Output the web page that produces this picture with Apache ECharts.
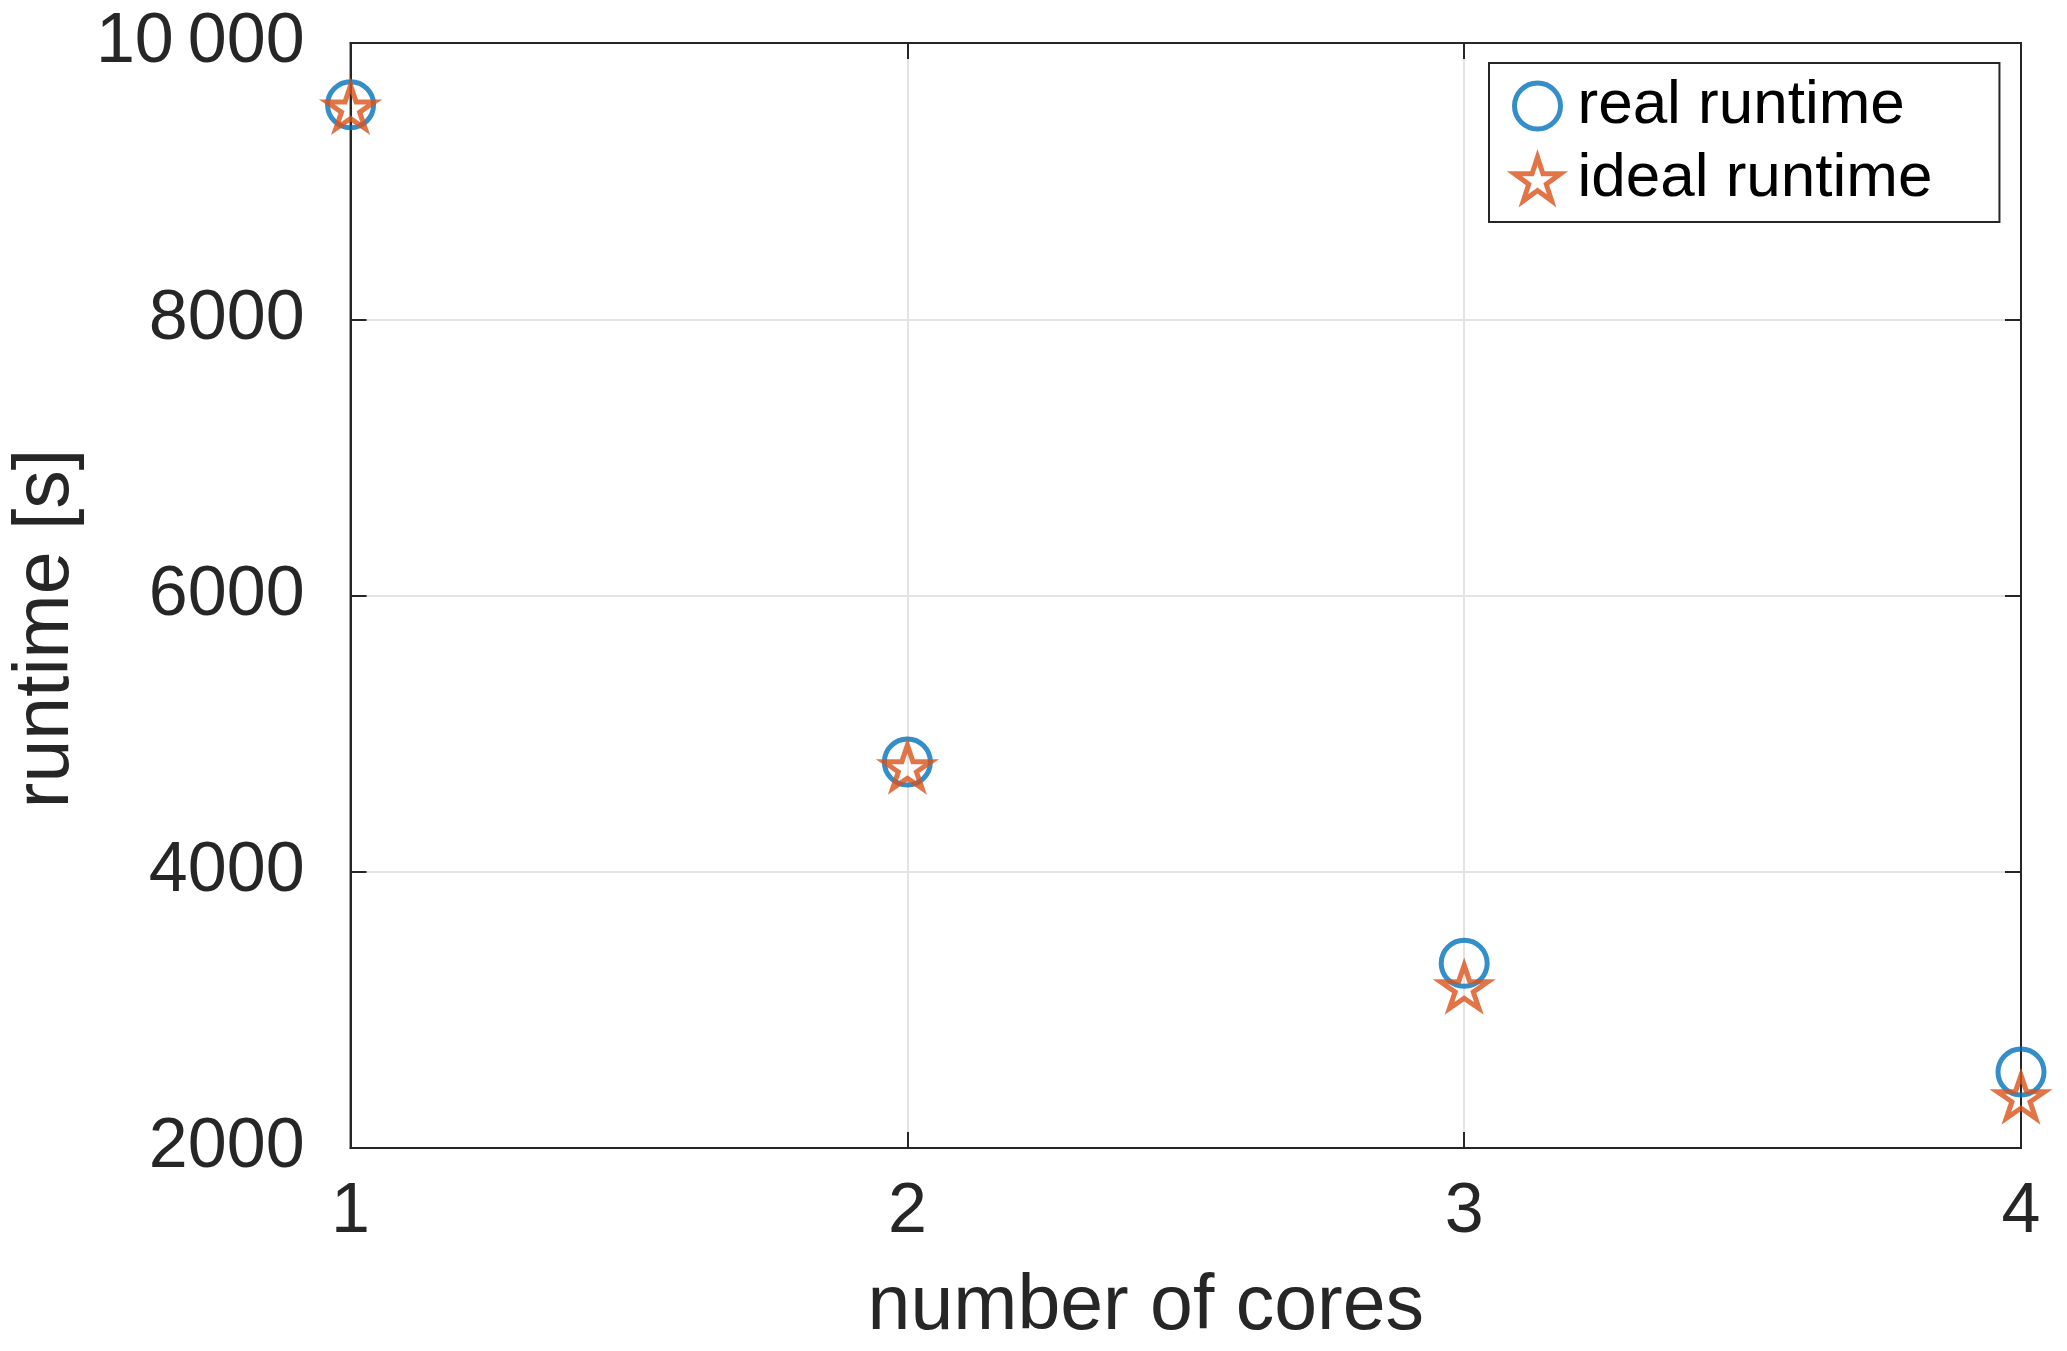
<!DOCTYPE html>
<html>
<head>
<meta charset="utf-8">
<script src="https://cdn.jsdelivr.net/npm/echarts@6/dist/echarts.min.js"></script>
<style>
html,body{margin:0;padding:0;background:#fff;}
#chart{width:2067px;height:1351px;}
</style>
</head>
<body>
<div id="chart"></div>
<script>
// ---- data ----
const cores = [1, 2, 3, 4];
const realRuntime = [9553, 4794, 3338, 2550];
const idealRuntime = [9553, 4777, 3184, 2388];
const yTicks = [2000, 4000, 6000, 8000, 10000];
const xTicks = [1, 2, 3, 4];
const seriesNames = ['real runtime', 'ideal runtime'];

// ---- marker shape (5-point star, outer radius 1) ----
function starPath() {
  const pts = [];
  for (let i = 0; i < 10; i++) {
    const r = i % 2 === 0 ? 1 : 0.382;
    const a = -Math.PI / 2 + i * Math.PI / 5;
    pts.push((r * Math.cos(a)).toFixed(4) + ',' + (r * Math.sin(a)).toFixed(4));
  }
  return 'path://M' + pts.join('L') + 'Z';
}
const STAR = starPath();
const R = 25;
const starSize = [1.902 * R, 1.809 * R];
const starOffset = [0, 0.0955 * R];

const BLUE = '#0072BD';
const ORANGE = '#D95319';
const AX = '#262626';
const FONT = '"Liberation Sans", Arial, Helvetica, sans-serif';

const chart = echarts.init(document.getElementById('chart'), null, {renderer: 'canvas'});

const option = {
  backgroundColor: '#ffffff',
  animation: false,
  grid: {
    left: 343, right: 46, top: 43, bottom: 198,
    show: true, borderColor: AX, borderWidth: 2, backgroundColor: 'transparent'
  },
  legend: {
    orient: 'vertical',
    left: 1489, top: 63,
    padding: [12, 67, 12, 23],
    itemGap: 11,
    itemWidth: 46, itemHeight: 46,
    borderColor: AX, borderWidth: 2,
    backgroundColor: '#fff',
    textStyle: {fontFamily: FONT, fontSize: 62, lineHeight: 62, color: '#000', padding: [0, 0, 0, 12]},
    data: [
      {name: seriesNames[0], icon: 'circle',
       itemStyle: {color: 'transparent', borderColor: BLUE, borderWidth: 5}},
      {name: seriesNames[1], icon: STAR,
       itemStyle: {color: 'transparent', borderColor: ORANGE, borderWidth: 5}}
    ]
  },
  xAxis: [{
    type: 'value', min: 1, max: 4, interval: 1,
    name: 'number of cores', nameLocation: 'middle', nameGap: 121,
    nameTextStyle: {fontFamily: FONT, fontSize: 77, color: AX, padding: [0, 80, 0, 0]},
    axisLine: {show: true, lineStyle: {color: AX, width: 2}},
    axisTick: {show: true, inside: true, length: 16, lineStyle: {color: AX, width: 2}},
    axisLabel: {fontFamily: FONT, fontSize: 70, color: AX, margin: 30,
      formatter: v => xTicks.includes(v) ? String(v) : ''},
    splitLine: {show: true, lineStyle: {color: '#e3e3e3', width: 2}}
  }, {
    type: 'value', min: 1, max: 4, interval: 1, position: 'top',
    axisLine: {show: true, lineStyle: {color: AX, width: 2}},
    axisTick: {show: true, inside: true, length: 16, lineStyle: {color: AX, width: 2}},
    axisLabel: {show: false}, splitLine: {show: false}
  }],
  yAxis: [{
    type: 'value', min: 2000, max: 10000, interval: 2000,
    name: 'runtime [s]', nameLocation: 'middle', nameGap: 248, nameRotate: 90,
    nameTextStyle: {fontFamily: FONT, fontSize: 77, color: AX, padding: [0, 66, 0, 0]},
    axisLine: {show: true, lineStyle: {color: AX, width: 2}},
    axisTick: {show: true, inside: true, length: 16, lineStyle: {color: AX, width: 2}},
    axisLabel: {fontFamily: FONT, fontSize: 70, color: AX, margin: 46,
      formatter: v => v >= 10000 ? (String(Math.floor(v / 1000)) + '\u2009' + String(v % 1000).padStart(3, '0')) : String(v)},
    splitLine: {show: true, lineStyle: {color: '#e3e3e3', width: 2}}
  }, {
    type: 'value', min: 2000, max: 10000, interval: 2000, position: 'right',
    axisLine: {show: true, lineStyle: {color: AX, width: 2}},
    axisTick: {show: true, inside: true, length: 16, lineStyle: {color: AX, width: 2}},
    axisLabel: {show: false}, splitLine: {show: false}
  }],
  series: [{
    name: seriesNames[0], type: 'scatter',
    data: cores.map((c, i) => [c, realRuntime[i]]),
    symbol: 'circle', symbolSize: 46,
    itemStyle: {color: 'transparent', borderColor: BLUE, borderWidth: 5},
    clip: false, z: 3
  }, {
    name: seriesNames[1], type: 'scatter',
    data: cores.map((c, i) => [c, idealRuntime[i]]),
    symbol: STAR, symbolSize: starSize, symbolOffset: starOffset, symbolKeepAspect: true,
    itemStyle: {color: 'transparent', borderColor: ORANGE, borderWidth: 5},
    clip: false, z: 4
  }]
};
chart.setOption(option);
</script>
</body>
</html>
